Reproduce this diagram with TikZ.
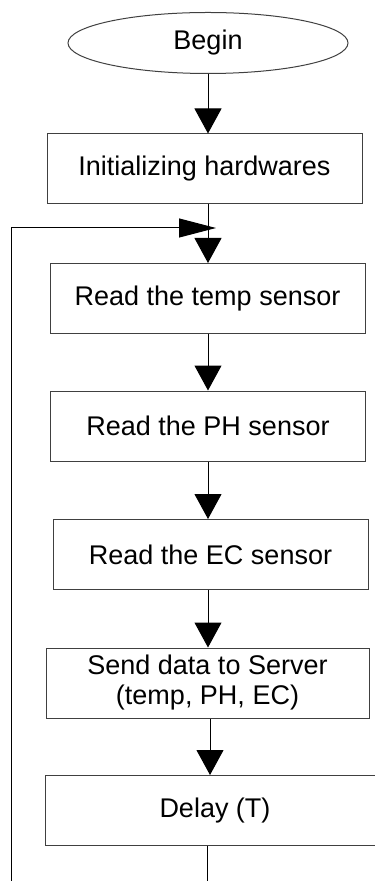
\documentclass[tikz,border=0pt]{standalone}
\usepackage{fontspec}
\setmainfont{Liberation Sans}
\usetikzlibrary{arrows.meta,positioning,shapes.geometric}

\begin{document}
\begin{tikzpicture}[
    x=0.5pt, y=-0.5pt,
    every node/.style={font=\fontsize{13.5}{15}\selectfont},
    box/.style={rectangle, draw=black!75, line width=0.5pt, minimum width=157.5pt, minimum height=35pt, inner sep=0pt, align=center},
    terminal/.style={ellipse, draw=black!75, line width=0.5pt, minimum width=140pt, minimum height=30.5pt, inner sep=0pt},
    flow/.style={line width=0.5pt, -{Triangle[length=12.5pt, width=13.5pt]}},
]
    \useasboundingbox (0,0) rectangle (374,881);

    % Start
    \node[terminal] (begin) at (208,43) {Begin};

    % Steps
    \node[box] (init) at (204.5,169) {Initializing hardwares};
    \node[box] (temp) at (207.5,298.5) {Read the temp sensor};
    \node[box] (ph) at (208,426) {Read the PH sensor};
    \node[box] (ec) at (210.5,554.5) {Read the EC sensor};
    \node[box, minimum width=161.5pt] (send) at (207.5,683) {Send data to Server\\(temp, PH, EC)};
    \node[box, minimum width=170pt] (delay) at (215,810.5) {Delay (T)};

    % Loop points
    \coordinate (join) at (216,228);
    \coordinate (loopdown) at (207,881);
    \coordinate (loopleft) at (11,881);

    % Edges
    \draw[flow] (begin.south) -- (init.north -| 208,0);
    \draw[flow] (init.south -| 208,0) -- (temp.north -| 208,0);
    \draw[flow] (temp.south -| 208,0) -- (ph.north -| 208,0);
    \draw[flow] (ph.south -| 208,0) -- (ec.north -| 208,0);
    \draw[flow] (ec.south -| 208,0) -- (send.north -| 208,0);
    \draw[flow] (send.south -| 210,0) -- (delay.north -| 210,0);

    % Loop back
    \draw[line width=0.5pt] (delay.south -| loopdown) -- (loopdown);
    \draw[line width=0.5pt, -{Triangle[length=18.5pt, width=9.5pt]}] (loopleft) |- (join);
\end{tikzpicture}
\end{document}
